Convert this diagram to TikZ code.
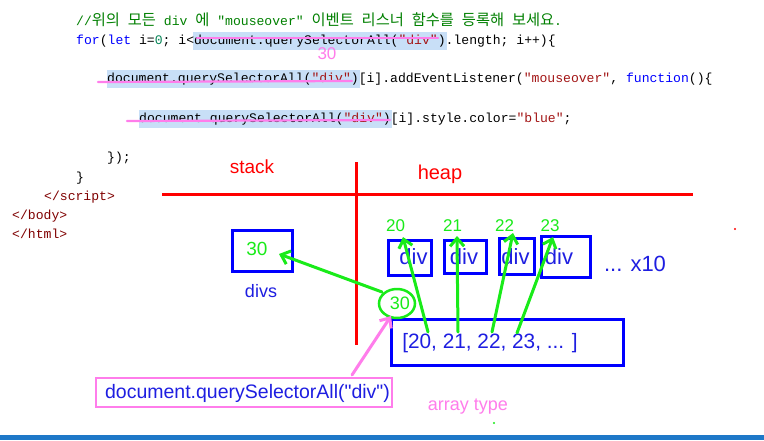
\documentclass[tikz,border=0pt]{standalone}
\usepackage{fontspec}
\setmainfont{Liberation Sans}
\newfontfamily\plainsans{Liberation Sans}
\newfontfamily\codefont{Liberation Mono}
\newfontfamily\krfont{Noto Sans CJK KR}
\usetikzlibrary{arrows.meta,shapes.geometric}
\definecolor{cgreen}{RGB}{0,128,0}
\definecolor{ckw}{RGB}{0,0,255}
\definecolor{cstr}{RGB}{163,21,21}
\definecolor{ctag}{RGB}{128,0,0}
\definecolor{cnum}{RGB}{9,134,88}
\definecolor{hl}{RGB}{200,223,247}
\definecolor{pinkc}{RGB}{255,125,235}
\definecolor{grn}{RGB}{25,235,25}
\definecolor{blu}{RGB}{0,0,255}
\definecolor{txtblu}{RGB}{30,30,225}
\definecolor{redc}{RGB}{255,0,0}
\definecolor{barc}{RGB}{30,120,200}
\newcommand\hk[1]{{\krfont\fontsize{15.3pt}{15.3pt}\selectfont #1}}
\tikzset{
  code/.style={anchor=west, inner sep=0pt, font=\codefont\fontsize{13.1pt}{13.1pt}\selectfont, text height=10pt, text depth=3pt},
  sans/.style={inner sep=0pt, font=\fontsize{#1pt}{#1pt}\selectfont, text height=0.72*#1pt, text depth=0.2*#1pt},
  strike/.style={draw=pinkc, line width=2.2pt, line cap=round},
  redline/.style={draw=redc, line width=3pt},
  bluebox/.style={draw=blu, line width=3pt, inner sep=0pt},
  garrow/.style={draw=grn, line width=3pt, line cap=round, -{Straight Barb[length=8pt,width=14pt,line width=3pt]}},
  parrow/.style={draw=pinkc, line width=3pt, line cap=round, -{Straight Barb[length=8pt,width=14pt,line width=3pt]}},
}
\begin{document}
\begin{tikzpicture}[x=1pt,y=-1pt]
\useasboundingbox (0,0) rectangle (764,440);
\fill[white] (0,0) rectangle (764,440);
\fill[barc] (0,435) rectangle (764,440);
% highlights
\fill[hl] (193,32) rectangle (447,50);
\fill[hl] (107,70) rectangle (360,88);
\fill[hl] (139,110) rectangle (392,128);
% code
\node[code, text=cgreen] (c1) at (76,22) {//\hk{위의} \hk{모든} div \hk{에} "mouseover" \hk{이벤트} \hk{리스너} \hk{함수를} \hk{등록해} \hk{보세요}.};
\node[code] (c2) at (76,41) {\textcolor{ckw}{for}(\textcolor{ckw}{let} i=\textcolor{cnum}{0}; i<document.querySelectorAll(\textcolor{cstr}{"div"}).length; i++)\{};
\node[code] (c3) at (107,79) {document.querySelectorAll(\textcolor{cstr}{"div"})[i].addEventListener(\textcolor{cstr}{"mouseover"}, \textcolor{ckw}{function}()\{};
\node[code] (c4) at (139,119) {document.querySelectorAll(\textcolor{cstr}{"div"})[i].style.color=\textcolor{cstr}{"blue"};};
\node[code] (c5) at (107,158) {\});};
\node[code] (c6) at (76,178) {\}};
\node[code, text=ctag] (c7) at (44,197) {</script>};
\node[code, text=ctag] (c8) at (12,216) {</body>};
\node[code, text=ctag] (c9) at (12,235) {</html>};
% strikes
\draw[strike] (197,38) -- (438,38);
\draw[strike] (98,82) -- (352,81);
\draw[strike] (127,121) -- (390,120);
\node[sans=17, text=pinkc] (p30) at (327,55) {30};
% stack / heap
\draw[redline] (162,194) -- (693,194);
\draw[redline] (356,162) -- (356,345);
\node[sans=19, text=redc] (stack) at (252,169) {stack};
\node[sans=20, text=redc] (heap) at (440,174) {heap};
% stack box
\node[bluebox, minimum width=60pt, minimum height=41pt] (sbox) at (262,250.5) {};
\node[sans=19, text=grn] (s30) at (257,251) {30};
\node[sans=18, text=txtblu] (divs) at (261,293) {divs};
% div boxes
\node[bluebox, minimum width=43pt, minimum height=35pt] (d1) at (409.5,257.5) {};
\node[bluebox, minimum width=42pt, minimum height=33pt] (d2) at (465,256.5) {};
\node[bluebox, minimum width=35pt, minimum height=36pt] (d3) at (516.5,256) {};
\node[bluebox, minimum width=49pt, minimum height=41pt] (d4) at (565.5,256.5) {};
\node[sans=22, text=txtblu] (t1) at (413.5,259) {div};
\node[sans=22, text=txtblu] (t2) at (464,259) {div};
\node[sans=22, text=txtblu] (t3) at (515.5,259) {div};
\node[sans=22, text=txtblu] (t4) at (559,259) {div};
\node[sans=17, text=grn] (l20) at (395.5,227) {20};
\node[sans=17, text=grn] (l21) at (452.5,227) {21};
\node[sans=17, text=grn] (l22) at (504.5,227) {22};
\node[sans=17, text=grn] (l23) at (550,227) {23};
\node[sans=22, text=txtblu] (x10) at (635,266) {... x10};
% array box
\node[bluebox, minimum width=232pt, minimum height=46pt] (arr) at (507,342) {};
\node[sans=20.8, text=txtblu] (arrt) at (490,343) {[20, 21, 22, 23, ... ]};
% heap 30 ellipse
\node[draw=grn, line width=2.5pt, ellipse, minimum width=36pt, minimum height=29pt, inner sep=0pt] (e30) at (397,303.5) {};
\node[sans=18, text=grn] (h30) at (400,305) {30};
% arrows
\coordinate (f20) at (428,332); \coordinate (g20) at (403,237);
\coordinate (f21) at (458,332); \coordinate (g21) at (457,236);
\coordinate (f22) at (492,332); \coordinate (g22) at (513,233);
\coordinate (f23) at (517,333); \coordinate (g23) at (553,237);
\draw[garrow] (f20) -- (g20);
\draw[garrow] (f21) -- (g21);
\draw[garrow] (f22) -- (g22);
\draw[garrow] (f23) -- (g23);
\coordinate (es) at (382,292); \coordinate (st) at (279,254);
\draw[garrow] (es) -- (st);
% query box
\node[draw=pinkc, line width=2.5pt, minimum width=296pt, minimum height=29pt, inner sep=0pt] (qbox) at (244,392.5) {};
\node[sans=19.5, text=txtblu, font=\plainsans\fontsize{19.5pt}{19.5pt}\selectfont] (qtext) at (247.5,393) {document.querySelectorAll("div")};
\coordinate (qs) at (352,375); \coordinate (qe) at (391,316);
\draw[parrow] (qs) -- (qe);
\node[sans=18, text=pinkc] (atype) at (468,406) {array type};
\fill[grn] (494,423) circle (1.2);
\fill[redc] (735,229) circle (1.2);
\end{tikzpicture}
\end{document}
